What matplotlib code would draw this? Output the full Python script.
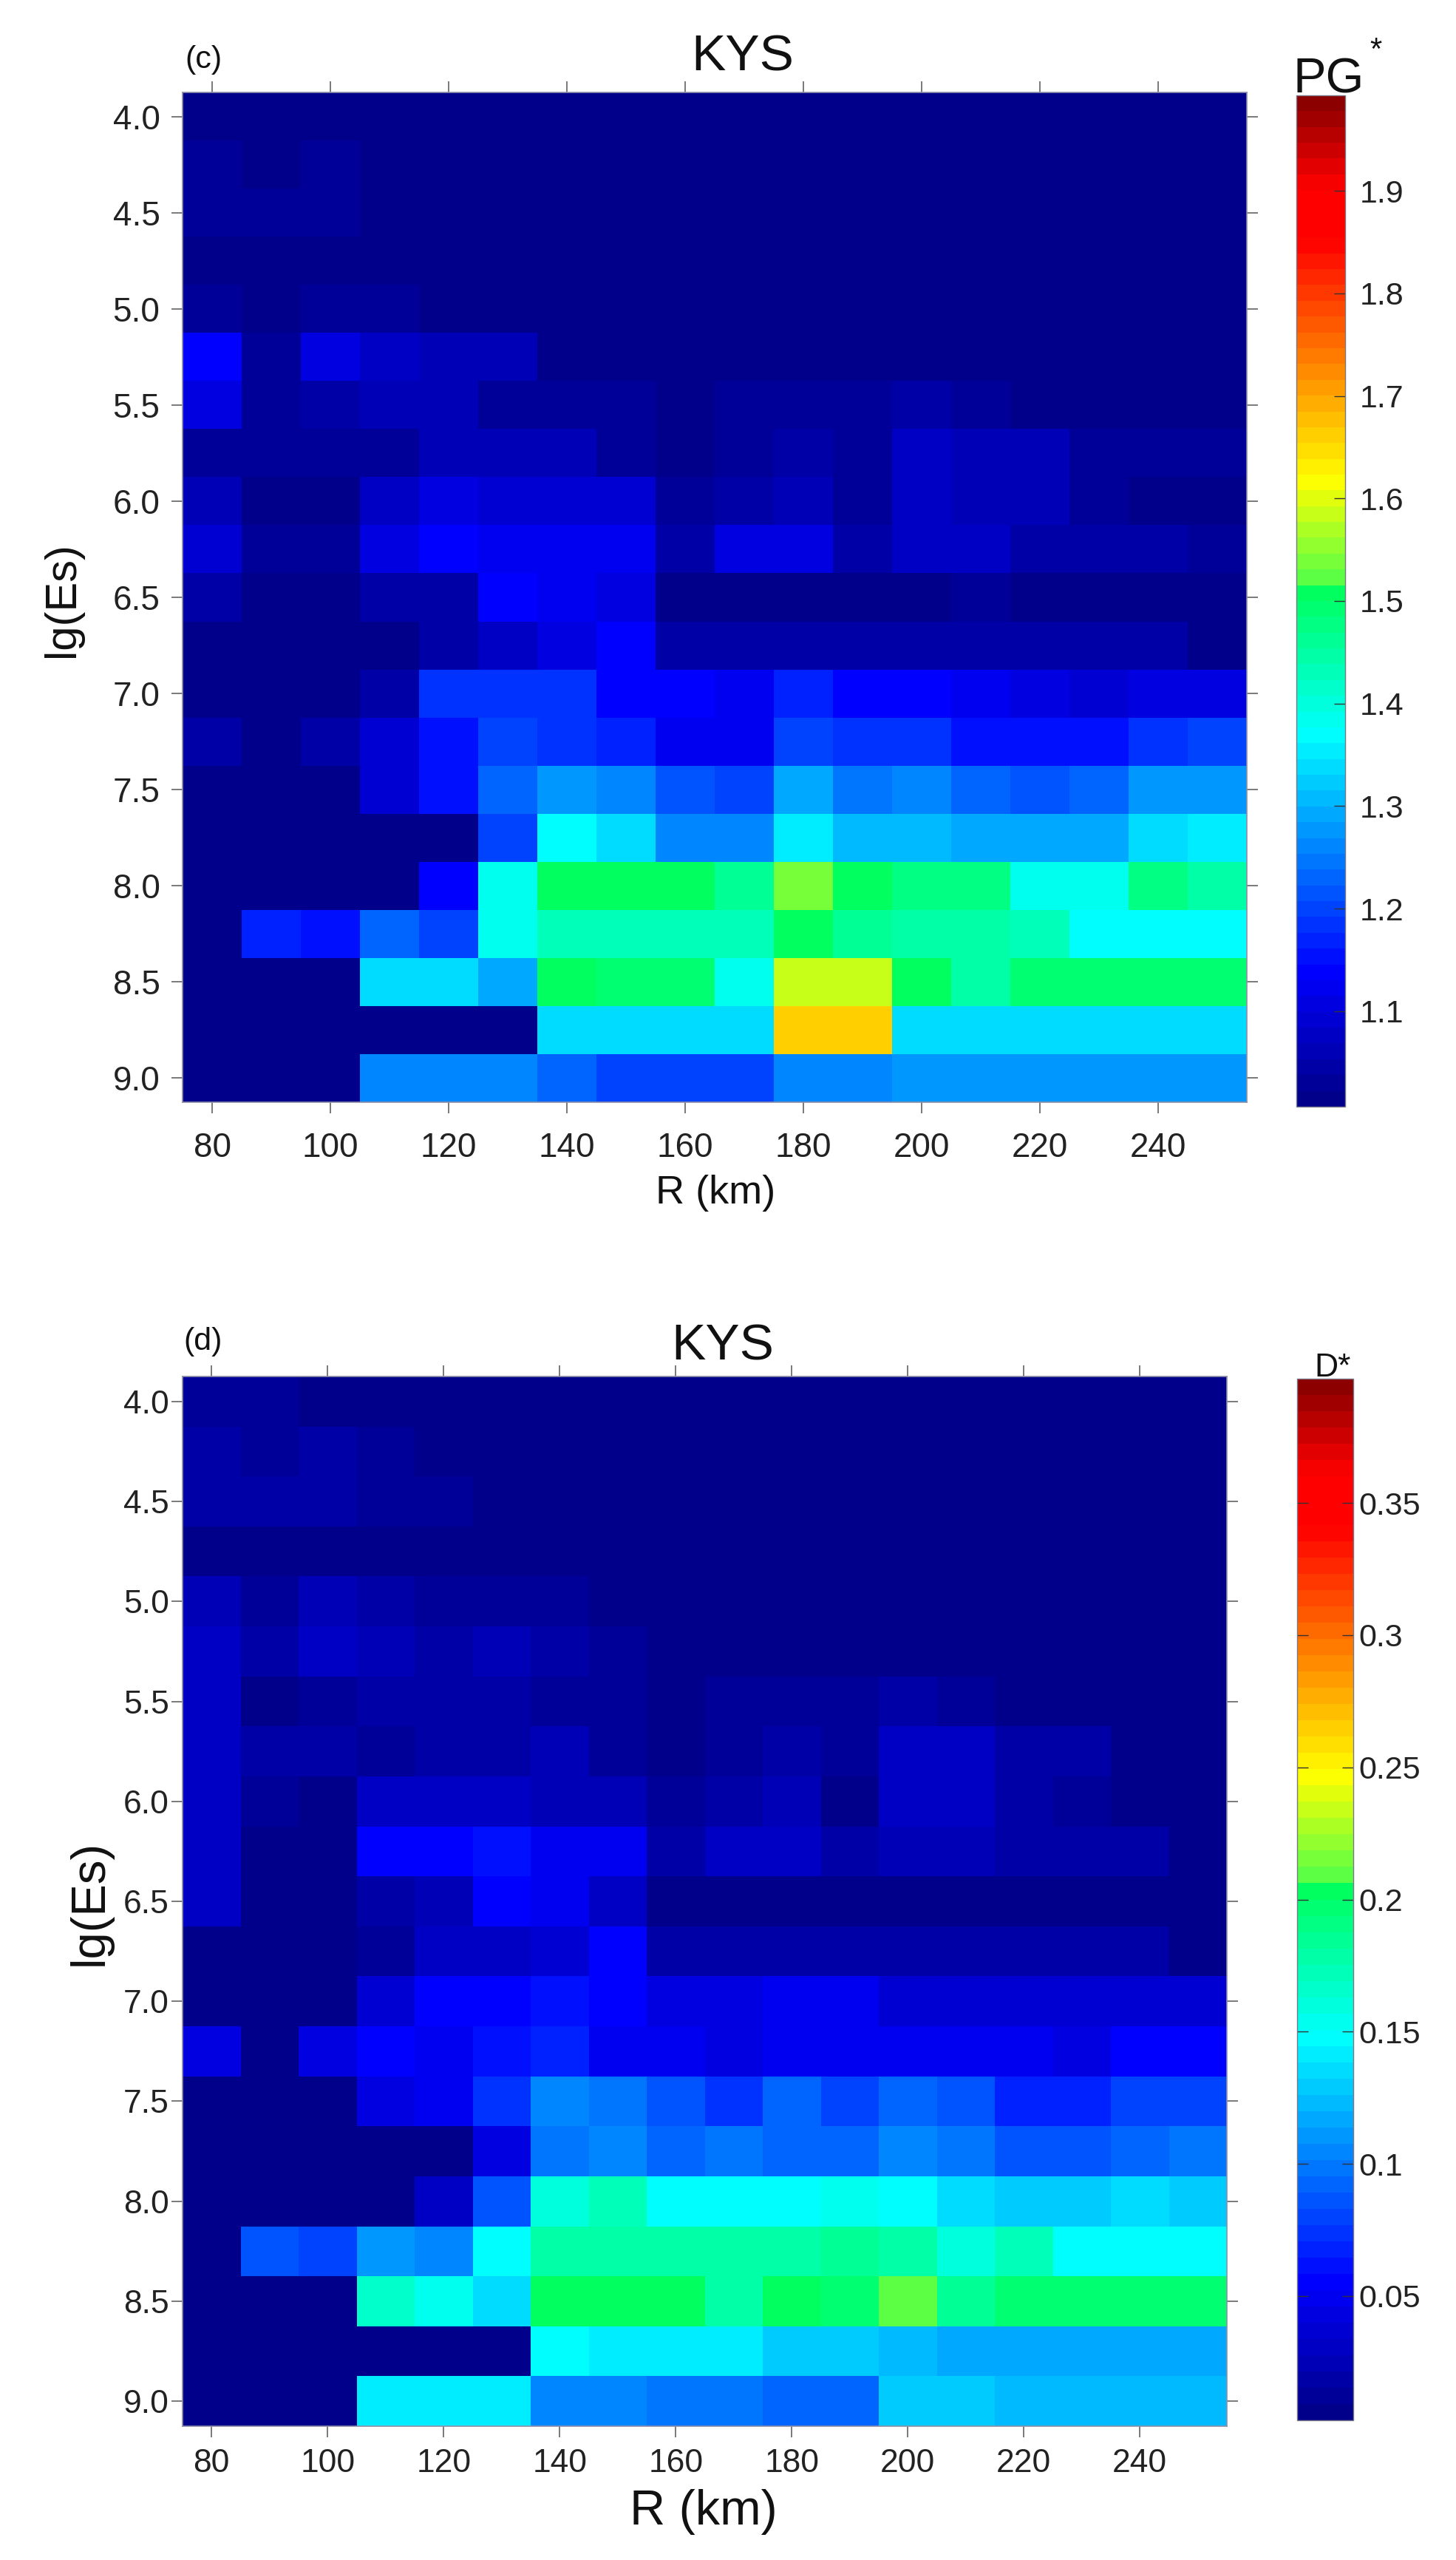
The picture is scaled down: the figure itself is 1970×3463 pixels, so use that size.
# -*- coding: utf-8 -*-
"""Two-panel KYS maps of PG* and D* over R and lg(Es)."""

# *****************************************************************************
# *** Import modules
import numpy as np
import matplotlib
matplotlib.use('Agg')
import matplotlib.pyplot as plt
from matplotlib.colors import LinearSegmentedColormap
# *****************************************************************************

# *****************************************************************************
# *** Data

# Bin centres:
vecR = [80, 90, 100, 110, 120, 130, 140, 150, 160,
        170, 180, 190, 200, 210, 220, 230, 240, 250]
vecEs = [4.0, 4.25, 4.5, 4.75, 5.0, 5.25, 5.5, 5.75, 6.0, 6.25, 6.5,
         6.75, 7.0, 7.25, 7.5, 7.75, 8.0, 8.25, 8.5, 8.75, 9.0]

# Tick labels:
vecRtick = [80, 100, 120, 140, 160, 180, 200, 220, 240]
vecEstick = [4.0, 4.5, 5.0, 5.5, 6.0, 6.5, 7.0, 7.5, 8.0, 8.5, 9.0]
vecPgTick = [1.1, 1.2, 1.3, 1.4, 1.5, 1.6, 1.7, 1.8, 1.9]
vecDTick = [0.05, 0.1, 0.15, 0.2, 0.25, 0.3, 0.35]
lstDTick = ['0.05', '0.1', '0.15', '0.2', '0.25', '0.3', '0.35']

# Panel (c), PG*:
lstPg = [
    [1.01, 1.01, 1.01, 1.01, 1.01, 1.01, 1.01, 1.01, 1.01, 1.01, 1.01, 1.01, 1.01, 1.01, 1.01, 1.01, 1.01, 1.01],
    [1.03, 1.01, 1.03, 1.01, 1.01, 1.01, 1.01, 1.01, 1.01, 1.01, 1.01, 1.01, 1.01, 1.01, 1.01, 1.01, 1.01, 1.01],
    [1.03, 1.03, 1.03, 1.01, 1.01, 1.01, 1.01, 1.01, 1.01, 1.01, 1.01, 1.01, 1.01, 1.01, 1.01, 1.01, 1.01, 1.01],
    [1.01, 1.01, 1.01, 1.01, 1.01, 1.01, 1.01, 1.01, 1.01, 1.01, 1.01, 1.01, 1.01, 1.01, 1.01, 1.01, 1.01, 1.01],
    [1.032, 1.01, 1.03, 1.03, 1.01, 1.01, 1.01, 1.01, 1.01, 1.01, 1.01, 1.01, 1.01, 1.01, 1.01, 1.01, 1.01, 1.01],
    [1.133, 1.032, 1.103, 1.078, 1.057, 1.057, 1.01, 1.01, 1.01, 1.01, 1.01, 1.01, 1.01, 1.01, 1.01, 1.01, 1.01, 1.01],
    [1.113, 1.03, 1.047, 1.067, 1.067, 1.037, 1.037, 1.037, 1.01, 1.03, 1.03, 1.03, 1.047, 1.03, 1.01, 1.01, 1.01, 1.01],
    [1.032, 1.032, 1.032, 1.032, 1.057, 1.057, 1.057, 1.037, 1.002, 1.03, 1.047, 1.03, 1.075, 1.057, 1.057, 1.03, 1.03, 1.03],
    [1.067, 1.01, 1.01, 1.078, 1.11, 1.088, 1.088, 1.088, 1.032, 1.047, 1.067, 1.03, 1.078, 1.057, 1.057, 1.03, 1.007, 1.007],
    [1.09, 1.03, 1.03, 1.11, 1.135, 1.13, 1.13, 1.13, 1.045, 1.10, 1.10, 1.05, 1.07, 1.07, 1.05, 1.05, 1.05, 1.03],
    [1.04, 1.01, 1.01, 1.045, 1.05, 1.135, 1.13, 1.10, 1.005, 1.015, 1.015, 1.005, 1.005, 1.03, 1.01, 1.01, 1.01, 1.01],
    [1.008, 1.008, 1.008, 1.005, 1.05, 1.08, 1.11, 1.135, 1.05, 1.045, 1.045, 1.04, 1.04, 1.04, 1.04, 1.04, 1.04, 1.012],
    [1.008, 1.008, 1.008, 1.05, 1.19, 1.19, 1.18, 1.14, 1.14, 1.13, 1.17, 1.14, 1.14, 1.12, 1.11, 1.095, 1.105, 1.105],
    [1.05, 1.01, 1.05, 1.09, 1.15, 1.20, 1.19, 1.17, 1.13, 1.13, 1.20, 1.19, 1.19, 1.155, 1.155, 1.155, 1.19, 1.20],
    [1.008, 1.008, 1.008, 1.085, 1.15, 1.235, 1.275, 1.26, 1.22, 1.20, 1.29, 1.25, 1.26, 1.23, 1.22, 1.23, 1.275, 1.275],
    [1.008, 1.008, 1.008, 1.008, 1.008, 1.20, 1.37, 1.34, 1.26, 1.26, 1.355, 1.31, 1.31, 1.285, 1.285, 1.285, 1.34, 1.355],
    [1.008, 1.008, 1.008, 1.008, 1.135, 1.385, 1.51, 1.51, 1.51, 1.46, 1.54, 1.50, 1.48, 1.48, 1.385, 1.385, 1.47, 1.45],
    [1.008, 1.17, 1.155, 1.235, 1.20, 1.39, 1.43, 1.43, 1.43, 1.43, 1.51, 1.46, 1.445, 1.445, 1.425, 1.37, 1.37, 1.37],
    [1.008, 1.008, 1.008, 1.34, 1.34, 1.295, 1.51, 1.485, 1.485, 1.385, 1.58, 1.58, 1.51, 1.445, 1.485, 1.485, 1.485, 1.485],
    [1.008, 1.008, 1.008, 1.008, 1.008, 1.008, 1.34, 1.34, 1.34, 1.34, 1.666, 1.666, 1.34, 1.34, 1.34, 1.34, 1.34, 1.34],
    [1.008, 1.008, 1.008, 1.26, 1.26, 1.26, 1.23, 1.20, 1.20, 1.20, 1.26, 1.26, 1.28, 1.28, 1.28, 1.28, 1.28, 1.28],
]

# Panel (d), D*:
lstD = [
    [.013, .013, .005, .005, .005, .005, .005, .005, .005, .005, .005, .005, .005, .005, .005, .005, .005, .005],
    [.017, .012, .021, .011, .005, .005, .005, .005, .005, .005, .005, .005, .005, .005, .005, .005, .005, .005],
    [.021, .021, .021, .014, .014, .005, .005, .005, .005, .005, .005, .005, .005, .005, .005, .005, .005, .005],
    [.004, .004, .004, .004, .004, .004, .004, .004, .004, .004, .004, .004, .004, .004, .004, .004, .004, .004],
    [.026, .014, .024, .018, .013, .013, .013, .005, .005, .005, .005, .005, .005, .005, .005, .005, .005, .005],
    [.033, .018, .033, .024, .017, .024, .018, .014, .005, .005, .005, .005, .005, .005, .005, .005, .005, .005],
    [.029, .004, .011, .017, .017, .017, .014, .014, .007, .012, .012, .012, .019, .012, .005, .005, .005, .005],
    [.029, .020, .020, .014, .017, .017, .022, .012, .005, .010, .018, .011, .028, .028, .020, .020, .008, .008],
    [.029, .010, .004, .030, .030, .030, .027, .027, .011, .016, .022, .007, .030, .030, .018, .011, .004, .004],
    [.033, .008, .008, .053, .056, .063, .051, .051, .020, .030, .030, .018, .027, .027, .021, .021, .021, .008],
    [.030, .004, .004, .016, .024, .053, .050, .033, .003, .006, .006, .003, .003, .008, .004, .004, .004, .004],
    [.004, .004, .004, .011, .029, .033, .037, .053, .018, .020, .020, .017, .017, .017, .017, .017, .017, .004],
    [.004, .004, .004, .035, .054, .054, .060, .053, .041, .041, .049, .049, .036, .036, .036, .036, .036, .036],
    [.041, .004, .043, .056, .050, .059, .066, .050, .050, .046, .050, .050, .050, .050, .050, .046, .054, .054],
    [.004, .004, .004, .041, .052, .075, .107, .098, .088, .072, .090, .079, .090, .085, .070, .070, .079, .079],
    [.004, .004, .004, .004, .004, .043, .099, .107, .094, .099, .092, .092, .107, .098, .088, .085, .092, .099],
    [.004, .004, .004, .004, .033, .088, .161, .175, .150, .147, .147, .152, .147, .135, .131, .131, .136, .129],
    [.004, .086, .079, .110, .105, .147, .178, .178, .178, .178, .178, .184, .180, .163, .172, .147, .147, .147],
    [.004, .004, .004, .168, .155, .133, .203, .203, .203, .178, .200, .196, .212, .182, .198, .198, .198, .198],
    [.004, .004, .004, .004, .004, .004, .147, .142, .142, .142, .131, .131, .123, .118, .118, .118, .118, .118],
    [.004, .004, .004, .142, .142, .142, .105, .105, .099, .099, .094, .094, .129, .129, .123, .123, .123, .123],
]

# Colorbar ranges:
varPgMin = 1.007
varPgMax = 1.993
varDMin = 0.003
varDMax = 0.397
# *****************************************************************************

# *****************************************************************************
# *** Figure parameters

varSizeX = 1970.0
varSizeY = 3463.0
varDpi = 100.0

strFont = 'Liberation Sans'
plt.rcParams['font.family'] = strFont

# Jet-like colormap with a small jump around green, 64 levels:
lstCmap = [(0.0, (0, 0, 138)),
           (0.128, (0, 0, 255)),
           (0.366, (0, 255, 255)),
           (0.5126, (0, 255, 90)),
           (0.522, (90, 255, 70)),
           (0.621, (255, 255, 0)),
           (0.862, (255, 0, 0)),
           (0.915, (255, 0, 0)),
           (1.0, (140, 0, 0))]
cmpJet = LinearSegmentedColormap.from_list(
    'jet64',
    [(varPos, tuple(varC / 255.0 for varC in tplRgb))
     for varPos, tplRgb in lstCmap],
    N=64)

fgr01 = plt.figure(figsize=(varSizeX / varDpi, varSizeY / varDpi), dpi=varDpi)


def fncAxes(varL, varT, varR, varB):
    """Add axes from pixel edges (origin at top left)."""
    return fgr01.add_axes([varL / varSizeX,
                           1.0 - varB / varSizeY,
                           (varR - varL) / varSizeX,
                           (varB - varT) / varSizeY])


def fncText(varX, varY, strTxt, varSize, **kwargs):
    """Figure text at pixel position, baseline by default."""
    kwargs.setdefault('ha', 'center')
    kwargs.setdefault('va', 'baseline')
    fgr01.text(varX / varSizeX, 1.0 - varY / varSizeY, strTxt,
               fontsize=varSize, color='#111111', **kwargs)


def fncEdges(vecIn):
    """Cell edges from regular bin centres."""
    vecTmp = np.asarray(vecIn, dtype=float)
    varStep = vecTmp[1] - vecTmp[0]
    return np.append(vecTmp - 0.5 * varStep, vecTmp[-1] + 0.5 * varStep)


def fncPanel(lstVal, tplAxs, tplCbr, varMin, varMax, varTickSize, varPadY,
             varPadX):
    """Draw one heatmap panel with its colorbar."""
    axs01 = fncAxes(*tplAxs)
    plt01 = axs01.pcolormesh(fncEdges(vecR), fncEdges(vecEs),
                             np.array(lstVal), cmap=cmpJet,
                             vmin=varMin, vmax=varMax, shading='flat')
    axs01.set_ylim(9.125, 3.875)
    axs01.set_xlim(75, 255)
    axs01.set_xticks(vecRtick)
    axs01.set_yticks(vecEstick)
    axs01.set_yticklabels(['{:.1f}'.format(varTmp) for varTmp in vecEstick])
    axs01.tick_params(axis='both', which='major', direction='out',
                      top=True, right=True, length=10.5, width=1.1,
                      color='#555555', labelsize=varTickSize,
                      labelcolor='#222222')
    axs01.tick_params(axis='y', pad=varPadY)
    axs01.tick_params(axis='x', pad=varPadX)
    for strTmp in ['top', 'bottom', 'left', 'right']:
        axs01.spines[strTmp].set_linewidth(1.2)
        axs01.spines[strTmp].set_color('#8f8fa8')

    axs02 = fncAxes(*tplCbr)
    cbr01 = fgr01.colorbar(plt01, cax=axs02)
    cbr01.outline.set_linewidth(1.0)
    cbr01.outline.set_edgecolor('#777788')
    return axs01, cbr01
# *****************************************************************************

# *****************************************************************************
# *** Panel (c)

axsC, cbrC = fncPanel(lstPg, (247, 125, 1687, 1491), (1754, 129, 1820, 1497),
                      varPgMin, varPgMax, 33, 11.5, 18)
cbrC.set_ticks(vecPgTick)
cbrC.set_ticklabels(['{:.1f}'.format(varTmp) for varTmp in vecPgTick])
cbrC.ax.tick_params(direction='in', length=11, width=1.0, color='#333333',
                    labelsize=31, pad=14, labelcolor='#222222')

fncText(1005, 96, 'KYS', 50)
fncText(250, 92, '(c)', 31, ha='left')
fncText(85, 811, 'lg(Es)', 43, rotation=90, va='center', rotation_mode='anchor')
fncText(968, 1628, 'R (km)', 39)
fncText(1798, 126, 'PG', 48)
fncText(1861, 80, '*', 30)
# *****************************************************************************

# *****************************************************************************
# *** Panel (d)

axsD, cbrD = fncPanel(lstD, (247, 1862, 1660, 3282), (1755, 1865, 1831, 3274),
                      varDMin, varDMax, 32, 2.5, 11)
cbrD.set_ticks(vecDTick)
cbrD.set_ticklabels(lstDTick)
cbrD.ax.tick_params(direction='in', length=11, width=1.0, color='#333333',
                    left=True, right=True, labelsize=31, pad=5,
                    labelcolor='#222222')

fncText(978, 1839, 'KYS', 50)
fncText(248, 1826, '(d)', 31, ha='left')
fncText(122, 2574, 'lg(Es)', 47, rotation=90, va='center', rotation_mode='anchor')
fncText(952, 3415, 'R (km)', 48)
fncText(1803, 1862, 'D*', 32)
# *****************************************************************************

# Save figure:
fgr01.savefig('out.png', dpi=varDpi, facecolor='w')
plt.close(fgr01)
